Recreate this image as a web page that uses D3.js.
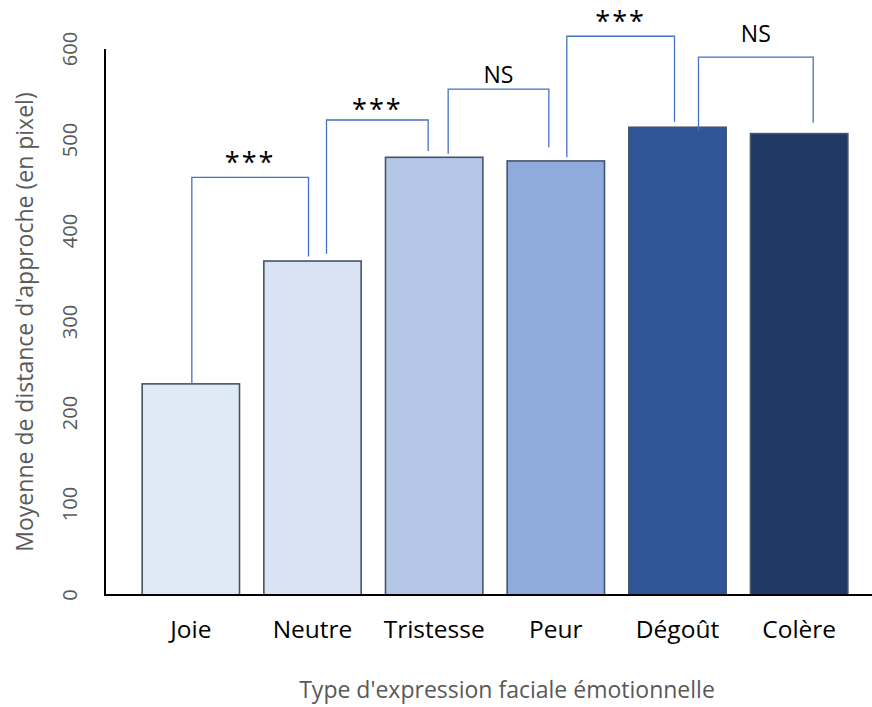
<!DOCTYPE html>
<html><head><meta charset="utf-8">
<script src="https://cdn.jsdelivr.net/npm/d3@7/dist/d3.min.js"></script>
<style>body{margin:0;background:#fff}svg{display:block}text{font-family:"Open Sans",sans-serif}</style>
</head><body><svg id="c" width="872" height="707"></svg>
<script>
const categories = ["Joie","Neutre","Tristesse","Peur","Dégoût","Colère"];
const values = [232, 367, 481, 477, 514, 507];
const colors = ["#DEEBF7","#DAE3F3","#B4C7E7","#8FAADC","#2F5597","#203864"];
const yTicks = [0,100,200,300,400,500,600];
// significance brackets: from/to category index, bracket level, leg end values, label
const bracketFrom = [0,1,2,3,4];
const bracketTo = [1,2,3,4,5];
const bracketLevel = [459, 522, 556, 614, 591];
const bracketLeftEnd = [232, 375, 485, 481, 510];
const bracketRightEnd = [372, 488, 492, 520, 519];
const bracketLabel = ["***","***","NS","***","NS"];
// layout offsets (px) of bracket legs from bar centers, and label baseline above bracket
const legOffL = [1, 14, 14, 11, 21];
const legOffR = [-4, -6, -7, -3, 14];
const labelDy = [5, 1, 6, 5, 15];

const svg = d3.select("#c");
const x = d3.scaleBand().domain(categories).range([130, 860]).paddingInner(0.2).paddingOuter(0.1);
const y = d3.scaleLinear().domain([0, 600]).range([595, 49]);

// bars
svg.append("g").selectAll("rect").data(categories).join("rect")
  .attr("x", d => x(d)).attr("width", x.bandwidth())
  .attr("y", (d,i) => y(values[i])).attr("height", (d,i) => y(0) - y(values[i]))
  .attr("fill", (d,i) => colors[i]).attr("stroke", "#44546A").attr("stroke-width", 1.6);

// axes lines
svg.append("line").attr("x1",105).attr("x2",105).attr("y1",y(600)).attr("y2",y(0)+1).attr("stroke","#000").attr("stroke-width",2);
svg.append("line").attr("x1",104).attr("x2",872).attr("y1",y(0)).attr("y2",y(0)).attr("stroke","#000").attr("stroke-width",2);

// y tick labels (rotated)
svg.append("g").selectAll("text").data(yTicks).join("text")
  .attr("transform", d => `translate(77,${y(d)}) rotate(-90)`)
  .attr("text-anchor","middle").attr("font-size",20).attr("fill","#595959").text(d => d);

// category labels
svg.append("g").selectAll("text").data(categories).join("text")
  .attr("x", d => x(d) + x.bandwidth()/2).attr("y", 638)
  .attr("text-anchor","middle").attr("font-size",24.5).attr("fill","#000").text(d => d);

// axis titles
svg.append("text").attr("x", 507).attr("y", 698).attr("text-anchor","middle")
  .attr("font-size",23).attr("fill","#595959").text("Type d'expression faciale émotionnelle");
svg.append("text").attr("transform","translate(33,322) rotate(-90)").attr("text-anchor","middle")
  .attr("font-size",23).attr("fill","#595959").text("Moyenne de distance d'approche (en pixel)");

// brackets
const cx = c => x(categories[c]) + x.bandwidth()/2;
const bg = svg.append("g");
bracketFrom.forEach((f,i) => {
  const xl = cx(f) + legOffL[i], xr = cx(bracketTo[i]) + legOffR[i];
  bg.append("path").attr("fill","none").attr("stroke","#4472C4").attr("stroke-width",1.3)
    .attr("d", `M${xl},${y(bracketLeftEnd[i])}V${y(bracketLevel[i])}H${xr}V${y(bracketRightEnd[i])}`);
  const isStar = bracketLabel[i] === "***";
  bg.append("text").attr("x",(xl+xr)/2).attr("y", y(bracketLevel[i]) - labelDy[i])
    .attr("text-anchor","middle").attr("font-size", isStar ? 27 : 23).attr("fill","#000")
    .attr("letter-spacing", isStar ? 2 : 0)
    .text(bracketLabel[i]);
});
</script></body></html>
